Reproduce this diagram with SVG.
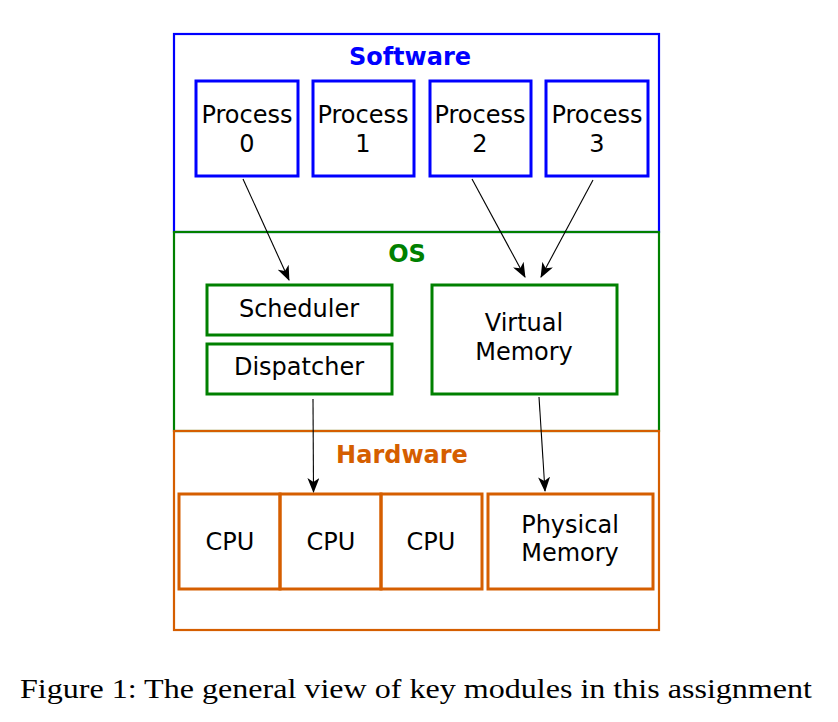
<svg xmlns="http://www.w3.org/2000/svg" width="838" height="722" viewBox="0 0 838 722">
<defs>
<style>
.t{font-family:"DejaVu Sans","Verdana",sans-serif;font-size:24px;fill:#000;text-anchor:middle}
.h{font-family:"DejaVu Sans","Verdana",sans-serif;font-size:24px;font-weight:bold;text-anchor:middle}
.sw{fill:none;stroke:#0000ff}
.os{fill:none;stroke:#008000}
.hw{fill:none;stroke:#d55e00}
.outer{stroke-width:2.2}
.inner{stroke-width:3}
.c{stroke:#000;stroke-width:1.1;fill:none;marker-end:url(#ah)}
.cap{font-family:"Liberation Serif","Times New Roman",serif;font-size:27px;fill:#000}
</style>
<marker id="ah" viewBox="0 0 15 12" refX="14" refY="6" markerWidth="15" markerHeight="12" markerUnits="userSpaceOnUse" orient="auto">
<path d="M0,0 L15,6 L0,12 L4,6 Z" fill="#000"/>
</marker>
</defs>
<rect width="838" height="722" fill="#fff"/>

<g id="software">
<rect class="sw outer" x="174" y="34" width="485" height="198"/>
<text class="h" x="410" y="65" fill="#0000ff">Software</text>
</g>
<g id="os">
<rect class="os outer" x="174" y="232" width="485" height="199"/>
<text class="h" x="407" y="262" fill="#008000">OS</text>
</g>
<g id="hardware">
<rect class="hw outer" x="174" y="431" width="485" height="199"/>
<text class="h" x="402" y="463" fill="#d55e00">Hardware</text>
</g>

<g id="process0">
<rect class="sw inner" x="196" y="81" width="102" height="95"/>
<text class="t" x="247" y="123">Process</text>
<text class="t" x="247" y="152">0</text>
</g>
<g id="process1">
<rect class="sw inner" x="313" y="81" width="101" height="95"/>
<text class="t" x="363" y="123">Process</text>
<text class="t" x="363" y="152">1</text>
</g>
<g id="process2">
<rect class="sw inner" x="430" y="81" width="101" height="95"/>
<text class="t" x="480" y="123">Process</text>
<text class="t" x="480" y="152">2</text>
</g>
<g id="process3">
<rect class="sw inner" x="546" y="81" width="102" height="95"/>
<text class="t" x="597" y="123">Process</text>
<text class="t" x="597" y="152">3</text>
</g>

<g id="scheduler">
<rect class="os inner" x="207" y="285" width="185" height="50"/>
<text class="t" x="299" y="317">Scheduler</text>
</g>
<g id="dispatcher">
<rect class="os inner" x="207" y="344" width="185" height="50"/>
<text class="t" x="299" y="375">Dispatcher</text>
</g>
<g id="virtualmemory">
<rect class="os inner" x="432" y="285" width="185" height="109"/>
<text class="t" x="524" y="331">Virtual</text>
<text class="t" x="524" y="360">Memory</text>
</g>

<g id="cpu0">
<rect class="hw inner" x="179" y="494" width="101" height="95"/>
<text class="t" x="230" y="550">CPU</text>
</g>
<g id="cpu1">
<rect class="hw inner" x="280" y="494" width="101" height="95"/>
<text class="t" x="331" y="550">CPU</text>
</g>
<g id="cpu2">
<rect class="hw inner" x="381" y="494" width="101" height="95"/>
<text class="t" x="431" y="550">CPU</text>
</g>
<g id="physicalmemory">
<rect class="hw inner" x="488" y="494" width="165" height="95"/>
<text class="t" x="570" y="533">Physical</text>
<text class="t" x="570" y="561">Memory</text>
</g>

<g id="connectors">
<line class="c" x1="243" y1="179" x2="289" y2="280"/>
<line class="c" x1="472" y1="179" x2="525" y2="277"/>
<line class="c" x1="593" y1="180" x2="541" y2="277"/>
<line class="c" x1="313" y1="399" x2="313.5" y2="492"/>
<line class="c" x1="539" y1="397" x2="545" y2="491"/>
</g>

<text class="cap" x="20" y="698" textLength="792" lengthAdjust="spacingAndGlyphs">Figure 1: The general view of key modules in this assignment</text>
</svg>
